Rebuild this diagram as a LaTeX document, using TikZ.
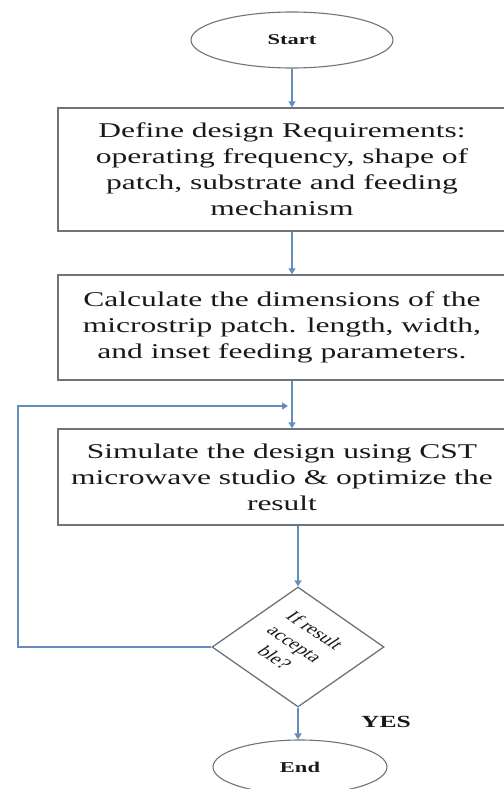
\documentclass[tikz,border=0pt]{standalone}
\usepackage{fontspec}
\setmainfont{Liberation Serif}[FakeStretch=1.5]
\newfontfamily\diafont{Liberation Serif}
\usetikzlibrary{shapes.geometric,arrows.meta}
\definecolor{flowblue}{RGB}{100,141,190}
\definecolor{boxgray}{RGB}{110,116,124}
\definecolor{inkgray}{RGB}{25,25,25}
\begin{document}
\begin{tikzpicture}[x=1pt, y=-1pt, line width=1.3pt, text=inkgray,
  terminal/.style={ellipse, draw=boxgray, line width=1.1pt, inner sep=0pt,
    font=\fontsize{15}{18}\selectfont\bfseries},
  stepbox/.style={rectangle, draw=boxgray, line width=1.4pt, align=center,
    inner sep=0pt, minimum width=448pt, font=\fontsize{21}{26}\selectfont},
  decision/.style={diamond, draw=boxgray, line width=1.3pt, inner sep=0pt,
    minimum width=172pt, minimum height=120pt},
  flow/.style={draw=flowblue, -{Triangle[width=7pt,length=6pt]}}]
\useasboundingbox (0,0) rectangle (503,789);
\node[terminal, minimum width=202pt, minimum height=56pt] (start) at (292,40) {Start};
\node[stepbox, minimum height=123pt] (req) at (282,169.5)
  {Define design Requirements:\\ operating frequency, shape of\\ patch, substrate and feeding\\ mechanism};
\node[stepbox, minimum height=105pt] (calc) at (282,327.5)
  {Calculate the dimensions of the\\ microstrip patch. length, width,\\ and inset feeding parameters.};
\node[stepbox, minimum height=96pt] (sim) at (282,477)
  {Simulate the design using CST\\ microwave studio \& optimize the\\ result};
\node[decision] (dec) at (298,647) {};
\node[font=\diafont\fontsize{15}{19}\selectfont, align=center, xscale=1.5, rotate=-45]
  (ask) at (295,644) {If result\\ accepta\\ ble?};
\node[terminal, minimum width=174pt, minimum height=54pt] (end) at (300,767) {End};
\node[font=\fontsize{17}{20}\selectfont\bfseries] (yes) at (386,722) {YES};
\coordinate (back) at (18,406);
\coordinate (join) at (288,406);
\draw[flow] (start.south) -- (start.south |- req.north);
\draw[flow] (req.south -| start) -- (calc.north -| start);
\draw[flow] (calc.south -| start) -- (sim.north -| start);
\draw[flow] (sim.south -| dec) -- (dec.north);
\draw[flow] (dec.south) -- (dec.south |- end.north);
\draw[flow] (dec.west) -| (back) -- (join);
\end{tikzpicture}
\end{document}
